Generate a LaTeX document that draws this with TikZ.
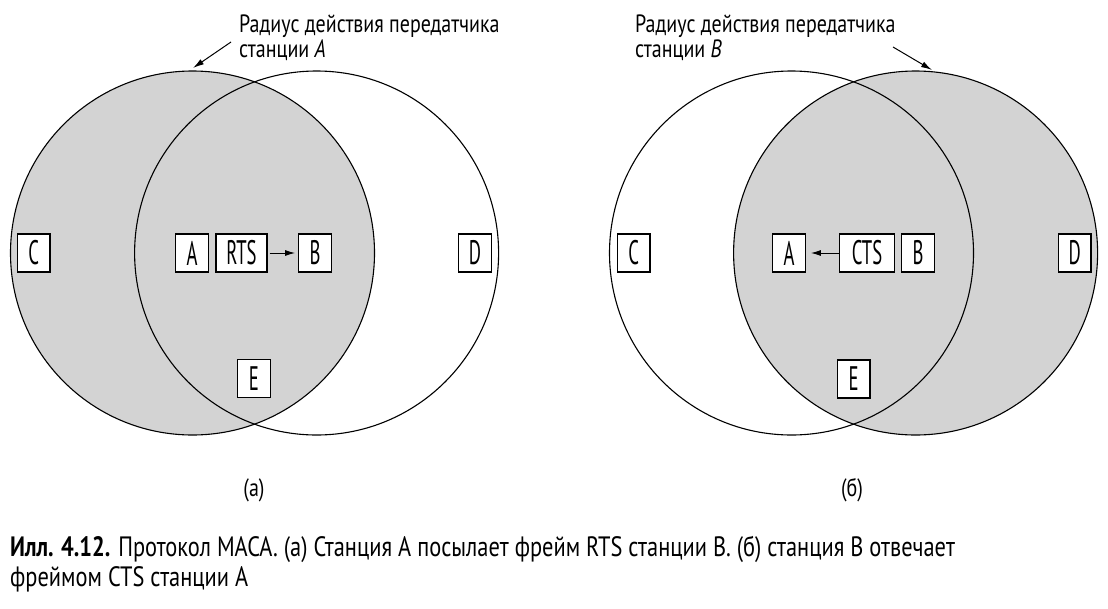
\documentclass[tikz,border=0pt]{standalone}
\usepackage{fontspec}
\setmainfont{PT Sans}[FakeStretch=0.8]
\newfontfamily\boxfont{PT Sans}[FakeStretch=0.55]
\usetikzlibrary{arrows.meta}
\definecolor{rangegray}{RGB}{211,211,211}
\tikzset{
  stn/.style={draw, line width=1.3pt, fill=white, minimum width=32.5pt, minimum height=38pt, inner sep=0pt, font=\boxfont\fontsize{34}{34}\selectfont},
  rangeline/.style={line width=1.1pt},
  msg/.style={-{Latex[length=10pt,width=6pt]}, line width=1pt},
  note/.style={-{Latex[length=11pt,width=6pt]}, line width=1pt},
  lbl/.style={font=\fontsize{25}{25}\selectfont, align=left, anchor=north west, inner sep=0pt},
  sub/.style={font=\fontsize{25}{25}\selectfont, inner sep=0pt},
  caption/.style={font=\fontsize{28}{30}\selectfont, align=left, anchor=north west, inner sep=0pt},
}
\begin{document}
\begin{tikzpicture}[x=1pt,y=-1pt]
\useasboundingbox (0,0) rectangle (1108,608);
% ---------- (a) ----------
\fill[rangegray] (192.5,253) circle[radius=182pt];
\draw[rangeline] (192.5,253) circle[radius=182pt];
\draw[rangeline] (316.6,253) circle[radius=182pt];
\node[stn] (aC) at (33.7,253) {C};
\node[stn] (aA) at (192,253) {A};
\node[stn, minimum width=51pt] (aRTS) at (241.5,253) {RTS};
\node[stn] (aB) at (315,253) {B};
\node[stn] (aD) at (475,253) {D};
\node[stn] (aE) at (254,378.5) {E};
\draw[msg] ([xshift=2pt]aRTS.east) -- ([xshift=-3pt]aB.west);
\node[lbl] (aNote) at (239,15) {Радиус действия передатчика\\станции \textit{A}};
\coordinate (aTip) at (193,68);
\draw[note] (231,42) -- (aTip);
\node[sub] (aSub) at (254,490) {(а)};
% ---------- (b) ----------
\fill[rangegray] (915.6,253) circle[radius=182pt];
\draw[rangeline] (915.6,253) circle[radius=182pt];
\draw[rangeline] (791.5,253) circle[radius=182pt];
\node[stn] (bC) at (633.7,253) {C};
\node[stn] (bA) at (789,253) {A};
\node[stn, minimum width=55pt] (bCTS) at (867,253) {CTS};
\node[stn] (bB) at (918,253) {B};
\node[stn] (bD) at (1074.7,253) {D};
\node[stn] (bE) at (853.7,379) {E};
\draw[msg] (bCTS.west) -- ([xshift=5pt]bA.east);
\node[lbl] (bNote) at (635,15) {Радиус действия передатчика\\станции \textit{B}};
\coordinate (bTip) at (932,70);
\draw[note] (893,47) -- (bTip);
\node[sub] (bSub) at (852,490) {(б)};
% ---------- caption ----------
\node[caption] (cap) at (10,536) {\textbf{Илл. 4.12.} Протокол MACA. (а) Станция А посылает фрейм RTS станции В. (б) станция В отвечает\\фреймом CTS станции А};
\end{tikzpicture}
\end{document}
